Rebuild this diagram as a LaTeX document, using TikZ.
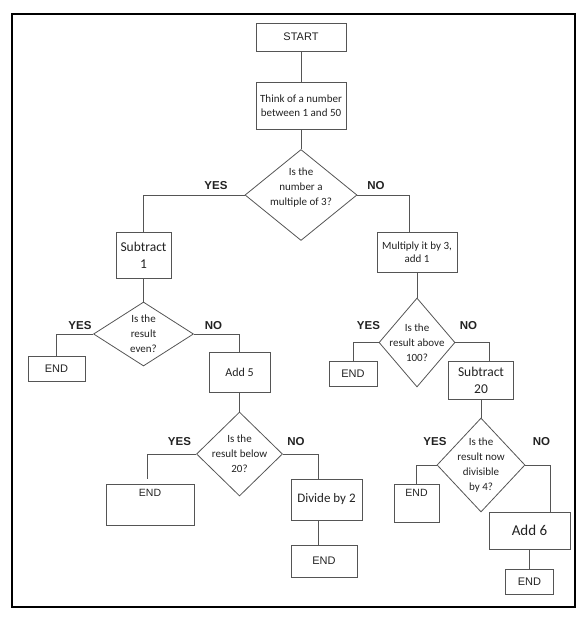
\documentclass[tikz,border=0pt]{standalone}
\usepackage{fontspec}
\setmainfont{Carlito}
\newfontfamily\arialfont{Liberation Sans}
\usetikzlibrary{shapes.geometric}
\definecolor{boxgray}{HTML}{555555}
\definecolor{textgray}{HTML}{222222}

\begin{document}
\begin{tikzpicture}[x=1pt,y=-1pt]
			\tikzstyle{Box}		= [draw=boxgray, line width=0.8pt, inner sep=0pt, align=center, text=textgray]
			\tikzstyle{Term}	= [font=\arialfont\fontsize{11}{13}\selectfont]
			\tikzstyle{TopEnd}	= [font=\arialfont\fontsize{10.5}{12}\selectfont, text height=12pt]
			\tikzstyle{Step}	= [font=\fontsize{11}{13.5}\selectfont]
			\tikzstyle{BigStep}	= [font=\fontsize{13.5}{17}\selectfont]
			\tikzstyle{Decision}	= [diamond, draw=boxgray, line width=0.8pt, inner sep=0pt]
			\tikzstyle{Ask}		= [align=center, text=textgray, font=\fontsize{11}{15}\selectfont]
			\tikzstyle{Answer}	= [text=textgray, font=\arialfont\bfseries\fontsize{11.5}{13}\selectfont]
			\tikzstyle{Link}	= [draw=boxgray, line width=0.8pt]

			\useasboundingbox (0,0) rectangle (587,619);
			\draw [line width=2.6pt] (12,14) rectangle (575,607);

			% top of the chart
			\node (start) at (301,37) [Box][Term][minimum width=90pt, minimum height=28pt] {START};
			\node (think) at (301,105.5) [Box][Step][minimum width=90pt, minimum height=47pt] {Think of a number\\between 1 and 50};
			\node (q1) at (301,195) [Decision][minimum width=112pt, minimum height=91pt,
				label={[Ask, yshift=7pt]center:Is the\\number a\\multiple of 3?}] {};

			% yes branch
			\node (sub1) at (143.5,255) [Box][BigStep][minimum width=55pt, minimum height=46pt] {Subtract\\1};
			\node (q2) at (143.5,334) [Decision][minimum width=100pt, minimum height=64pt,
				label={[Ask]center:Is the\\result\\even?}] {};
			\node (end1) at (56.5,368.5) [Box][Term][minimum width=57pt, minimum height=25pt] {END};
			\node (add5) at (239.5,372) [Box][font=\fontsize{12}{14}\selectfont][minimum width=61pt, minimum height=40pt] {Add 5};
			\node (q3) at (239.5,454) [Decision][minimum width=86pt, minimum height=84pt,
				label={[Ask]center:Is the\\result below\\20?}] {};
			\node (end2) at (150,504.5) [Box][TopEnd][minimum width=88pt, minimum height=41pt, text depth=29pt] {END};
			\node (div2) at (326.5,499.5) [Box][font=\fontsize{13}{15}\selectfont][minimum width=71pt, minimum height=41pt] {Divide by 2};
			\node (end3) at (324,561) [Box][Term][minimum width=66pt, minimum height=32pt] {END};

			% no branch
			\node (mult) at (417,252) [Box][Step][minimum width=80pt, minimum height=40pt] {Multiply it by 3,\\add 1};
			\node (q4) at (417,342.5) [Decision][minimum width=76pt, minimum height=89pt,
				label={[Ask]center:Is the\\result above\\100?}] {};
			\node (end4) at (353,373.5) [Box][Term][minimum width=48pt, minimum height=25pt] {END};
			\node (sub20) at (481,380) [Box][BigStep][minimum width=65pt, minimum height=38pt] {Subtract\\20};
			\node (q5) at (481,465) [Decision][minimum width=88pt, minimum height=94pt,
				label={[Ask]center:Is the\\result now\\divisible\\by 4?}] {};
			\node (end5) at (416.5,503) [Box][TopEnd][minimum width=45pt, minimum height=38pt, text depth=26pt] {END};
			\node (add6) at (529.5,530.5) [Box][font=\fontsize{15}{17}\selectfont][minimum width=81pt, minimum height=37pt] {Add 6};
			\node (end6) at (529.5,581.5) [Box][Term][minimum width=48pt, minimum height=25pt] {END};

			% yes / no labels
			\node (yes1) at (216,186) [Answer] {YES};
			\node (no1) at (376,186) [Answer] {NO};
			\node (yes2) at (80,326) [Answer] {YES};
			\node (no2) at (213.5,326) [Answer] {NO};
			\node (yes3) at (179.5,442) [Answer] {YES};
			\node (no3) at (296,442) [Answer] {NO};
			\node (yes4) at (368.5,326) [Answer] {YES};
			\node (no4) at (468.5,326) [Answer] {NO};
			\node (yes5) at (435,442) [Answer] {YES};
			\node (no5) at (541.5,442) [Answer] {NO};

			\draw [Link] (start) -- (think);
			\draw [Link] (think) -- (q1);
			\draw [Link] (q1.west) -| (sub1.north);
			\draw [Link] (q1.east) -| ([xshift=-8pt]mult.north);
			\draw [Link] (sub1) -- (q2);
			\draw [Link] (q2.west) -| (end1.north);
			\draw [Link] (q2.east) -| (add5.north);
			\draw [Link] (add5) -- (q3);
			\draw [Link] (q3.west) -| ([xshift=-3pt, yshift=5pt]end2.north);
			\draw [Link] (q3.east) -| ([xshift=-8.5pt]div2.north);
			\draw [Link] ([xshift=-8.5pt]div2.south) -- ([xshift=-6pt]end3.north);
			\draw [Link] (mult) -- (q4);
			\draw [Link] (q4.west) -| (end4.north);
			\draw [Link] (q4.east) -| ([xshift=8pt]sub20.north);
			\draw [Link] (sub20) -- (q5);
			\draw [Link] (q5.west) -| (end5.north);
			\draw [Link] (q5.east) -| ([xshift=20.5pt]add6.north);
			\draw [Link] (add6) -- (end6);
		\end{tikzpicture}
\end{document}
